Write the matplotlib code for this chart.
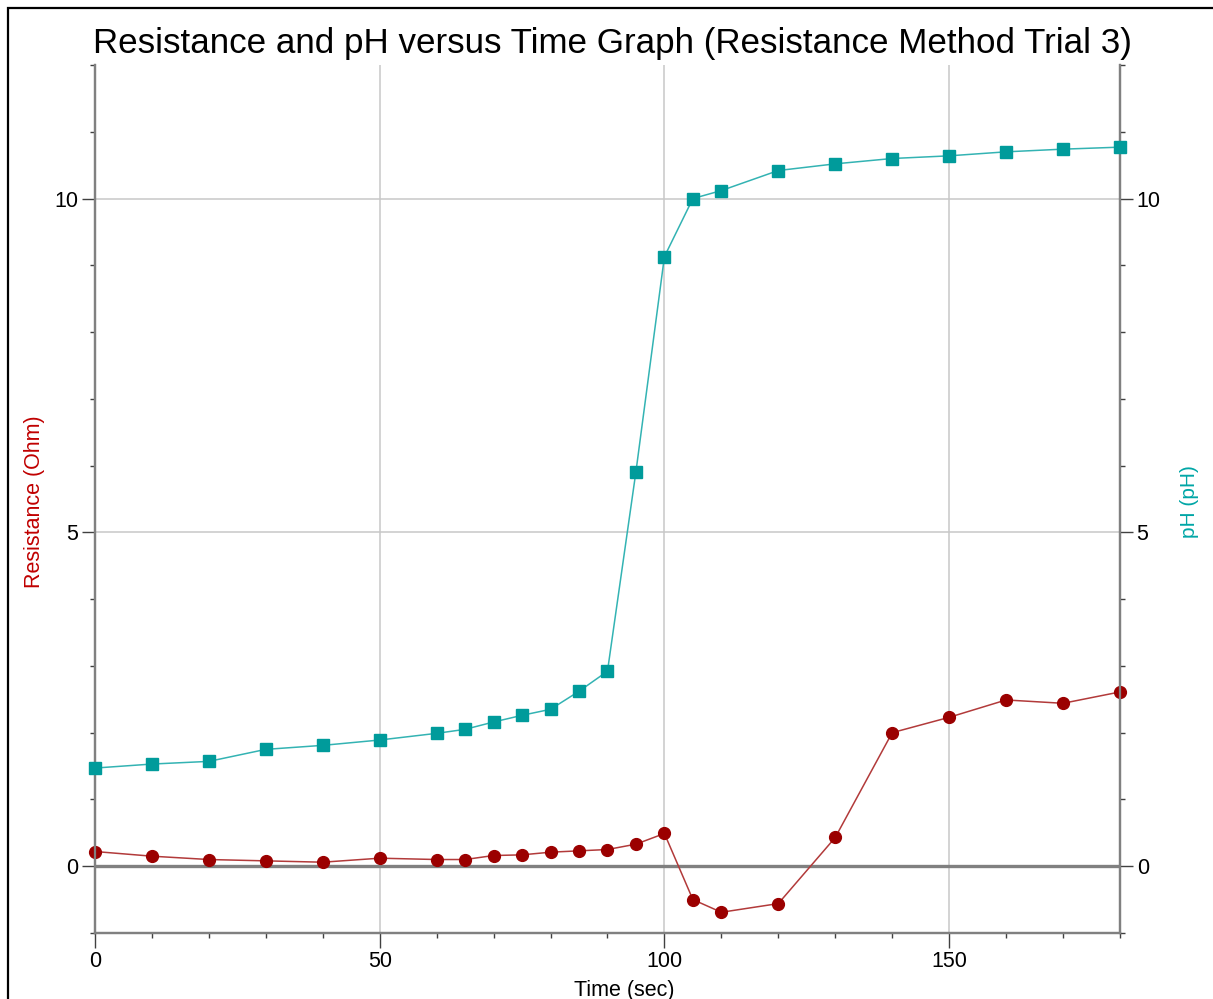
# -*- coding: utf-8 -*-
'''
    Resistance and pH versus time, resistance method trial 3
'''

import matplotlib
matplotlib.use('Agg')
import matplotlib.pyplot as plt
from matplotlib.patches import Rectangle
from matplotlib.ticker import MultipleLocator


# time (sec)
lsTime = [0, 10, 20, 30, 40, 50, 60, 65, 70, 75, 80, 85, 90, 95, 100,
          105, 110, 120, 130, 140, 150, 160, 170, 180]

# resistance (Ohm)
lsResistance = [0.22, 0.15, 0.10, 0.08, 0.06, 0.12, 0.10, 0.10, 0.16, 0.17,
                0.21, 0.23, 0.25, 0.33, 0.49, -0.50, -0.69, -0.56, 0.43,
                2.00, 2.23, 2.49, 2.44, 2.61]

# pH
lsPH = [1.47, 1.53, 1.57, 1.75, 1.81, 1.89, 1.99, 2.05, 2.16, 2.26, 2.35,
        2.62, 2.92, 5.91, 9.13, 10.00, 10.12, 10.42, 10.52, 10.60, 10.64,
        10.70, 10.74, 10.77]

lsXTicks = [0, 50, 100, 150]
lsYTicks = [0, 5, 10]

strTitle = 'Resistance and pH versus Time Graph (Resistance Method Trial 3)'

RED = '#9B0000'
RED_LINE = '#B23A3A'
TEAL = '#009B9B'
TEAL_LINE = '#33B3B3'
SPINE = '#808080'


def styleAxis(ax, strSide):
    '''
        ticks, spines and limits shared by both y axes
    '''
    ax.set_xlim(0, 180)
    ax.set_ylim(-1, 12)
    ax.set_yticks(lsYTicks)
    ax.yaxis.set_minor_locator(MultipleLocator(1))
    for strName, spine in ax.spines.items():
        spine.set_visible(strName in ('left', 'right', 'bottom'))
        spine.set_color(SPINE)
        spine.set_linewidth(1.6)
    ax.tick_params(axis='y', which='major', direction='out', length=9.5,
                   width=1, color='#404040', labelsize=15.5, pad=2.5)
    ax.tick_params(axis='y', which='minor', direction='out', length=3.6,
                   width=1, color='#404040')
    if strSide == 'left':
        ax.tick_params(axis='y', left=True, right=False, labelleft=True,
                       labelright=False, which='both')
    else:
        ax.tick_params(axis='y', left=False, right=True, labelleft=False,
                       labelright=True, which='both')


def drawChart():
    fig = plt.figure(figsize=(12.13, 9.99), dpi=100)
    ax = fig.add_axes([0.0783, 0.0661, 0.845, 0.8688])

    styleAxis(ax, 'left')
    ax.set_xticks(lsXTicks)
    ax.xaxis.set_minor_locator(MultipleLocator(10))
    ax.tick_params(axis='x', which='major', direction='out', length=10.5,
                   width=1, color='#404040', labelsize=15.5, pad=2.5)
    ax.tick_params(axis='x', which='minor', direction='out', length=3.6,
                   width=1, color='#404040')

    # grid and zero line
    ax.grid(True, which='major', color='#C8C8C8', linewidth=1.1)
    ax.set_axisbelow(True)
    ax.axhline(0, color=SPINE, linewidth=2.4, zorder=1.5)

    ax.plot(lsTime, lsResistance, color=RED_LINE, linewidth=1.1,
            marker='o', markersize=8.5, markerfacecolor=RED,
            markeredgecolor=RED, zorder=3, clip_on=False)

    ax2 = ax.twinx()
    styleAxis(ax2, 'right')
    ax2.plot(lsTime, lsPH, color=TEAL_LINE, linewidth=1.1,
             marker='s', markersize=8.5, markerfacecolor=TEAL,
             markeredgecolor=TEAL, zorder=3, clip_on=False)

    # labels
    ax.set_xlabel('Time (sec)', fontsize=15.5, color='black')
    ax.xaxis.set_label_coords(0.516, -0.054)
    ax.set_ylabel('Resistance (Ohm)', fontsize=15.5, color='#C00000')
    ax.yaxis.set_label_coords(-0.049, 0.4965)
    ax2.set_ylabel('pH (pH)', fontsize=15, color='#00A6A6')
    ax2.yaxis.set_label_coords(1.059, 0.4965)

    fig.text(0.5045, 1 - 53 / 999.0, strTitle, fontsize=25.2,
             ha='center', va='baseline')

    # outer frame of the graph window
    fig.patches.append(Rectangle((8 / 1213.0, -0.2), 1.5, 1.2 - 8 / 999.0,
                                 transform=fig.transFigure, fill=False,
                                 edgecolor='black', linewidth=1.6))

    fig.savefig('out.png', dpi=100)


if __name__ == '__main__':
    plt.rcParams['font.family'] = ['Liberation Sans', 'DejaVu Sans']
    drawChart()
